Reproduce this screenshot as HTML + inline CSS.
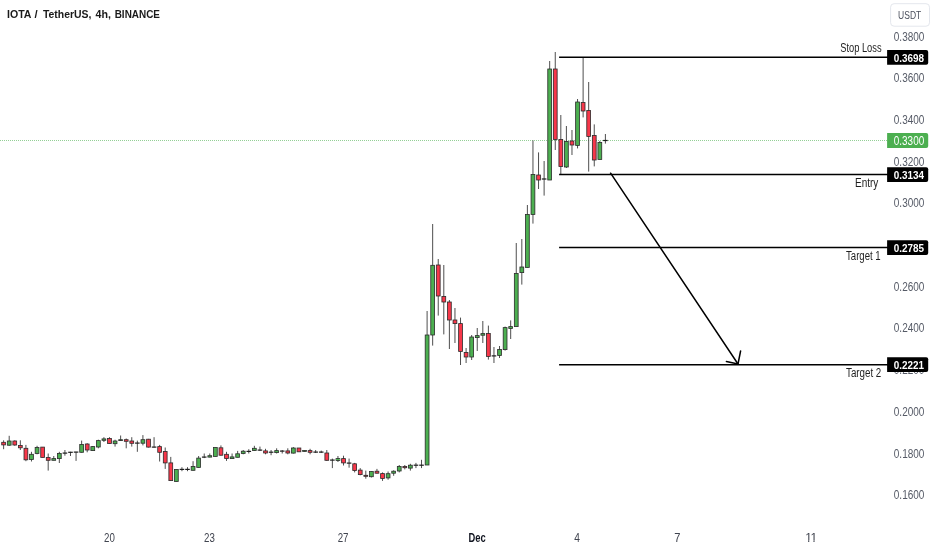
<!DOCTYPE html>
<html lang="en"><head><meta charset="utf-8"><title>IOTA / TetherUS, 4h, BINANCE</title>
<style>html,body{margin:0;padding:0;background:#fff;}body{width:932px;height:550px;overflow:hidden;}svg{display:block;}text{font-family:"Liberation Sans",sans-serif;}</style>
</head><body>
<svg width="932" height="550" viewBox="0 0 932 550">
<rect width="932" height="550" fill="#ffffff"/>
<line x1="0" y1="140.5" x2="887" y2="140.5" stroke="#4caf50" stroke-opacity="0.6" stroke-width="1" stroke-dasharray="1 1" shape-rendering="crispEdges"/>
<g>
<line x1="3.62" y1="440.3" x2="3.62" y2="449.2" stroke="#3a3a3a" stroke-width="0.9"/>
<rect x="1.72" y="442.3" width="3.8" height="2.6" fill="#f7374a" stroke="#2b2b2b" stroke-width="0.8"/>
<line x1="9.20" y1="435.8" x2="9.20" y2="445.8" stroke="#3a3a3a" stroke-width="0.9"/>
<rect x="7.30" y="441.0" width="3.8" height="4.2" fill="#4caf50" stroke="#2b2b2b" stroke-width="0.8"/>
<line x1="14.77" y1="440.3" x2="14.77" y2="445.8" stroke="#3a3a3a" stroke-width="0.9"/>
<rect x="12.87" y="441.0" width="3.8" height="4.0" fill="#f7374a" stroke="#2b2b2b" stroke-width="0.8"/>
<line x1="20.34" y1="440.3" x2="20.34" y2="450.0" stroke="#3a3a3a" stroke-width="0.9"/>
<rect x="18.44" y="445.4" width="3.8" height="2.4" fill="#f7374a" stroke="#2b2b2b" stroke-width="0.8"/>
<line x1="25.91" y1="444.9" x2="25.91" y2="461.2" stroke="#3a3a3a" stroke-width="0.9"/>
<rect x="24.01" y="448.3" width="3.8" height="11.5" fill="#f7374a" stroke="#2b2b2b" stroke-width="0.8"/>
<line x1="31.48" y1="451.8" x2="31.48" y2="461.5" stroke="#3a3a3a" stroke-width="0.9"/>
<rect x="29.58" y="454.3" width="3.8" height="5.2" fill="#4caf50" stroke="#2b2b2b" stroke-width="0.8"/>
<line x1="37.06" y1="445.8" x2="37.06" y2="454.3" stroke="#3a3a3a" stroke-width="0.9"/>
<rect x="35.16" y="447.5" width="3.8" height="6.0" fill="#4caf50" stroke="#2b2b2b" stroke-width="0.8"/>
<line x1="42.63" y1="447.1" x2="42.63" y2="457.4" stroke="#3a3a3a" stroke-width="0.9"/>
<rect x="40.73" y="447.1" width="3.8" height="10.3" fill="#f7374a" stroke="#2b2b2b" stroke-width="0.8"/>
<line x1="48.20" y1="453.5" x2="48.20" y2="470.6" stroke="#3a3a3a" stroke-width="0.9"/>
<rect x="46.30" y="457.4" width="3.8" height="2.9" fill="#f7374a" stroke="#2b2b2b" stroke-width="0.8"/>
<line x1="53.77" y1="456.0" x2="53.77" y2="460.3" stroke="#3a3a3a" stroke-width="0.9"/>
<rect x="51.87" y="458.6" width="3.8" height="1.7" fill="#4caf50" stroke="#2b2b2b" stroke-width="0.8"/>
<line x1="59.34" y1="451.8" x2="59.34" y2="463.0" stroke="#3a3a3a" stroke-width="0.9"/>
<rect x="57.44" y="453.5" width="3.8" height="5.1" fill="#4caf50" stroke="#2b2b2b" stroke-width="0.8"/>
<line x1="64.92" y1="450.0" x2="64.92" y2="455.7" stroke="#3a3a3a" stroke-width="0.9"/>
<line x1="62.62" y1="453.1" x2="67.22" y2="453.1" stroke="#1c1c1c" stroke-width="1.2"/>
<line x1="70.49" y1="451.8" x2="70.49" y2="456.0" stroke="#3a3a3a" stroke-width="0.9"/>
<line x1="68.19" y1="452.3" x2="72.79" y2="452.3" stroke="#1c1c1c" stroke-width="1.2"/>
<line x1="76.06" y1="451.8" x2="76.06" y2="460.9" stroke="#3a3a3a" stroke-width="0.9"/>
<line x1="73.76" y1="452.1" x2="78.36" y2="452.1" stroke="#1c1c1c" stroke-width="1.2"/>
<line x1="81.63" y1="440.6" x2="81.63" y2="452.6" stroke="#3a3a3a" stroke-width="0.9"/>
<rect x="79.73" y="444.4" width="3.8" height="7.9" fill="#4caf50" stroke="#2b2b2b" stroke-width="0.8"/>
<line x1="87.20" y1="443.2" x2="87.20" y2="452.3" stroke="#3a3a3a" stroke-width="0.9"/>
<rect x="85.30" y="444.0" width="3.8" height="6.0" fill="#f7374a" stroke="#2b2b2b" stroke-width="0.8"/>
<line x1="92.78" y1="446.0" x2="92.78" y2="451.0" stroke="#3a3a3a" stroke-width="0.9"/>
<rect x="90.88" y="446.6" width="3.8" height="4.0" fill="#4caf50" stroke="#2b2b2b" stroke-width="0.8"/>
<line x1="98.35" y1="439.7" x2="98.35" y2="448.3" stroke="#3a3a3a" stroke-width="0.9"/>
<rect x="96.45" y="440.6" width="3.8" height="6.4" fill="#4caf50" stroke="#2b2b2b" stroke-width="0.8"/>
<line x1="103.92" y1="437.2" x2="103.92" y2="442.0" stroke="#3a3a3a" stroke-width="0.9"/>
<rect x="102.02" y="438.9" width="3.8" height="1.4" fill="#4caf50" stroke="#2b2b2b" stroke-width="0.8"/>
<line x1="109.49" y1="437.2" x2="109.49" y2="443.7" stroke="#3a3a3a" stroke-width="0.9"/>
<rect x="107.59" y="438.5" width="3.8" height="5.0" fill="#f7374a" stroke="#2b2b2b" stroke-width="0.8"/>
<line x1="115.06" y1="439.7" x2="115.06" y2="446.6" stroke="#3a3a3a" stroke-width="0.9"/>
<rect x="113.16" y="441.0" width="3.8" height="2.7" fill="#4caf50" stroke="#2b2b2b" stroke-width="0.8"/>
<line x1="120.64" y1="435.5" x2="120.64" y2="441.0" stroke="#3a3a3a" stroke-width="0.9"/>
<rect x="118.74" y="439.7" width="3.8" height="0.9" fill="#4caf50" stroke="#2b2b2b" stroke-width="0.8"/>
<line x1="126.21" y1="438.5" x2="126.21" y2="448.3" stroke="#3a3a3a" stroke-width="0.9"/>
<rect x="124.31" y="439.7" width="3.8" height="1.6" fill="#f7374a" stroke="#2b2b2b" stroke-width="0.8"/>
<line x1="131.78" y1="437.2" x2="131.78" y2="446.6" stroke="#3a3a3a" stroke-width="0.9"/>
<rect x="129.88" y="441.0" width="3.8" height="2.3" fill="#f7374a" stroke="#2b2b2b" stroke-width="0.8"/>
<line x1="137.35" y1="440.6" x2="137.35" y2="451.8" stroke="#3a3a3a" stroke-width="0.9"/>
<line x1="135.05" y1="443.1" x2="139.65" y2="443.1" stroke="#1c1c1c" stroke-width="1.2"/>
<line x1="142.92" y1="435.1" x2="142.92" y2="445.4" stroke="#3a3a3a" stroke-width="0.9"/>
<rect x="141.02" y="439.7" width="3.8" height="3.5" fill="#4caf50" stroke="#2b2b2b" stroke-width="0.8"/>
<line x1="148.50" y1="438.9" x2="148.50" y2="447.5" stroke="#3a3a3a" stroke-width="0.9"/>
<rect x="146.60" y="439.2" width="3.8" height="7.9" fill="#f7374a" stroke="#2b2b2b" stroke-width="0.8"/>
<line x1="154.07" y1="437.2" x2="154.07" y2="447.5" stroke="#3a3a3a" stroke-width="0.9"/>
<line x1="151.77" y1="447.1" x2="156.37" y2="447.1" stroke="#1c1c1c" stroke-width="1.2"/>
<line x1="159.64" y1="444.9" x2="159.64" y2="461.5" stroke="#3a3a3a" stroke-width="0.9"/>
<rect x="157.74" y="446.6" width="3.8" height="5.7" fill="#f7374a" stroke="#2b2b2b" stroke-width="0.8"/>
<line x1="165.21" y1="447.5" x2="165.21" y2="468.9" stroke="#3a3a3a" stroke-width="0.9"/>
<rect x="163.31" y="451.4" width="3.8" height="11.5" fill="#f7374a" stroke="#2b2b2b" stroke-width="0.8"/>
<line x1="170.78" y1="456.9" x2="170.78" y2="480.9" stroke="#3a3a3a" stroke-width="0.9"/>
<rect x="168.88" y="462.9" width="3.8" height="17.7" fill="#f7374a" stroke="#2b2b2b" stroke-width="0.8"/>
<line x1="176.36" y1="469.4" x2="176.36" y2="481.5" stroke="#3a3a3a" stroke-width="0.9"/>
<rect x="174.46" y="469.4" width="3.8" height="12.1" fill="#4caf50" stroke="#2b2b2b" stroke-width="0.8"/>
<line x1="181.93" y1="467.2" x2="181.93" y2="471.2" stroke="#3a3a3a" stroke-width="0.9"/>
<line x1="179.63" y1="469.4" x2="184.23" y2="469.4" stroke="#1c1c1c" stroke-width="1.2"/>
<line x1="187.50" y1="467.2" x2="187.50" y2="471.2" stroke="#3a3a3a" stroke-width="0.9"/>
<line x1="185.20" y1="469.4" x2="189.80" y2="469.4" stroke="#1c1c1c" stroke-width="1.2"/>
<line x1="193.07" y1="461.2" x2="193.07" y2="470.6" stroke="#3a3a3a" stroke-width="0.9"/>
<rect x="191.17" y="466.4" width="3.8" height="3.9" fill="#4caf50" stroke="#2b2b2b" stroke-width="0.8"/>
<line x1="198.64" y1="456.0" x2="198.64" y2="467.7" stroke="#3a3a3a" stroke-width="0.9"/>
<rect x="196.74" y="458.1" width="3.8" height="9.3" fill="#4caf50" stroke="#2b2b2b" stroke-width="0.8"/>
<line x1="204.22" y1="453.5" x2="204.22" y2="458.1" stroke="#3a3a3a" stroke-width="0.9"/>
<line x1="201.92" y1="457.1" x2="206.52" y2="457.1" stroke="#1c1c1c" stroke-width="1.2"/>
<line x1="209.79" y1="453.5" x2="209.79" y2="457.4" stroke="#3a3a3a" stroke-width="0.9"/>
<rect x="207.89" y="455.7" width="3.8" height="1.4" fill="#4caf50" stroke="#2b2b2b" stroke-width="0.8"/>
<line x1="215.36" y1="447.5" x2="215.36" y2="456.4" stroke="#3a3a3a" stroke-width="0.9"/>
<rect x="213.46" y="447.5" width="3.8" height="8.9" fill="#4caf50" stroke="#2b2b2b" stroke-width="0.8"/>
<line x1="220.93" y1="445.4" x2="220.93" y2="455.7" stroke="#3a3a3a" stroke-width="0.9"/>
<rect x="219.03" y="447.8" width="3.8" height="7.4" fill="#f7374a" stroke="#2b2b2b" stroke-width="0.8"/>
<line x1="226.50" y1="451.8" x2="226.50" y2="460.9" stroke="#3a3a3a" stroke-width="0.9"/>
<rect x="224.60" y="454.3" width="3.8" height="4.3" fill="#f7374a" stroke="#2b2b2b" stroke-width="0.8"/>
<line x1="232.08" y1="453.5" x2="232.08" y2="458.6" stroke="#3a3a3a" stroke-width="0.9"/>
<rect x="230.18" y="456.9" width="3.8" height="1.7" fill="#4caf50" stroke="#2b2b2b" stroke-width="0.8"/>
<line x1="237.65" y1="450.9" x2="237.65" y2="457.4" stroke="#3a3a3a" stroke-width="0.9"/>
<rect x="235.75" y="453.8" width="3.8" height="3.5" fill="#4caf50" stroke="#2b2b2b" stroke-width="0.8"/>
<line x1="243.22" y1="450.0" x2="243.22" y2="454.3" stroke="#3a3a3a" stroke-width="0.9"/>
<rect x="241.32" y="451.2" width="3.8" height="2.3" fill="#4caf50" stroke="#2b2b2b" stroke-width="0.8"/>
<line x1="248.79" y1="449.2" x2="248.79" y2="453.5" stroke="#3a3a3a" stroke-width="0.9"/>
<line x1="246.49" y1="451.4" x2="251.09" y2="451.4" stroke="#1c1c1c" stroke-width="1.2"/>
<line x1="254.36" y1="445.8" x2="254.36" y2="450.9" stroke="#3a3a3a" stroke-width="0.9"/>
<rect x="252.46" y="448.3" width="3.8" height="2.3" fill="#4caf50" stroke="#2b2b2b" stroke-width="0.8"/>
<line x1="259.94" y1="446.6" x2="259.94" y2="450.9" stroke="#3a3a3a" stroke-width="0.9"/>
<line x1="257.64" y1="450.1" x2="262.24" y2="450.1" stroke="#1c1c1c" stroke-width="1.2"/>
<line x1="265.51" y1="448.8" x2="265.51" y2="454.3" stroke="#3a3a3a" stroke-width="0.9"/>
<rect x="263.61" y="450.9" width="3.8" height="2.1" fill="#f7374a" stroke="#2b2b2b" stroke-width="0.8"/>
<line x1="271.08" y1="450.0" x2="271.08" y2="455.2" stroke="#3a3a3a" stroke-width="0.9"/>
<line x1="268.78" y1="452.2" x2="273.38" y2="452.2" stroke="#1c1c1c" stroke-width="1.2"/>
<line x1="276.65" y1="448.3" x2="276.65" y2="453.5" stroke="#3a3a3a" stroke-width="0.9"/>
<rect x="274.75" y="450.6" width="3.8" height="2.0" fill="#4caf50" stroke="#2b2b2b" stroke-width="0.8"/>
<line x1="282.22" y1="450.0" x2="282.22" y2="453.5" stroke="#3a3a3a" stroke-width="0.9"/>
<line x1="279.92" y1="451.1" x2="284.52" y2="451.1" stroke="#1c1c1c" stroke-width="1.2"/>
<line x1="287.80" y1="448.3" x2="287.80" y2="454.3" stroke="#3a3a3a" stroke-width="0.9"/>
<rect x="285.90" y="450.9" width="3.8" height="2.1" fill="#f7374a" stroke="#2b2b2b" stroke-width="0.8"/>
<line x1="293.37" y1="447.1" x2="293.37" y2="453.5" stroke="#3a3a3a" stroke-width="0.9"/>
<rect x="291.47" y="448.0" width="3.8" height="5.1" fill="#4caf50" stroke="#2b2b2b" stroke-width="0.8"/>
<line x1="298.94" y1="448.0" x2="298.94" y2="451.8" stroke="#3a3a3a" stroke-width="0.9"/>
<rect x="297.04" y="448.0" width="3.8" height="3.8" fill="#f7374a" stroke="#2b2b2b" stroke-width="0.8"/>
<line x1="304.51" y1="450.4" x2="304.51" y2="451.4" stroke="#3a3a3a" stroke-width="0.9"/>
<rect x="302.61" y="450.4" width="3.8" height="1.0" fill="#4caf50" stroke="#2b2b2b" stroke-width="0.8"/>
<line x1="310.08" y1="448.8" x2="310.08" y2="454.3" stroke="#3a3a3a" stroke-width="0.9"/>
<rect x="308.18" y="450.6" width="3.8" height="1.7" fill="#f7374a" stroke="#2b2b2b" stroke-width="0.8"/>
<line x1="315.66" y1="450.0" x2="315.66" y2="453.0" stroke="#3a3a3a" stroke-width="0.9"/>
<line x1="313.36" y1="452.1" x2="317.96" y2="452.1" stroke="#1c1c1c" stroke-width="1.2"/>
<line x1="321.23" y1="450.6" x2="321.23" y2="453.0" stroke="#3a3a3a" stroke-width="0.9"/>
<line x1="318.93" y1="452.1" x2="323.53" y2="452.1" stroke="#1c1c1c" stroke-width="1.2"/>
<line x1="326.80" y1="450.0" x2="326.80" y2="460.9" stroke="#3a3a3a" stroke-width="0.9"/>
<rect x="324.90" y="453.0" width="3.8" height="7.3" fill="#f7374a" stroke="#2b2b2b" stroke-width="0.8"/>
<line x1="332.37" y1="458.6" x2="332.37" y2="468.1" stroke="#3a3a3a" stroke-width="0.9"/>
<line x1="330.07" y1="460.1" x2="334.67" y2="460.1" stroke="#1c1c1c" stroke-width="1.2"/>
<line x1="337.94" y1="456.0" x2="337.94" y2="462.0" stroke="#3a3a3a" stroke-width="0.9"/>
<rect x="336.04" y="458.6" width="3.8" height="1.9" fill="#4caf50" stroke="#2b2b2b" stroke-width="0.8"/>
<line x1="343.52" y1="455.7" x2="343.52" y2="465.5" stroke="#3a3a3a" stroke-width="0.9"/>
<rect x="341.62" y="458.6" width="3.8" height="4.3" fill="#f7374a" stroke="#2b2b2b" stroke-width="0.8"/>
<line x1="349.09" y1="458.6" x2="349.09" y2="467.7" stroke="#3a3a3a" stroke-width="0.9"/>
<line x1="346.79" y1="463.1" x2="351.39" y2="463.1" stroke="#1c1c1c" stroke-width="1.2"/>
<line x1="354.66" y1="462.9" x2="354.66" y2="472.4" stroke="#3a3a3a" stroke-width="0.9"/>
<rect x="352.76" y="463.8" width="3.8" height="6.8" fill="#f7374a" stroke="#2b2b2b" stroke-width="0.8"/>
<line x1="360.23" y1="468.1" x2="360.23" y2="475.3" stroke="#3a3a3a" stroke-width="0.9"/>
<rect x="358.33" y="470.1" width="3.8" height="4.5" fill="#f7374a" stroke="#2b2b2b" stroke-width="0.8"/>
<line x1="365.80" y1="470.6" x2="365.80" y2="478.7" stroke="#3a3a3a" stroke-width="0.9"/>
<rect x="363.90" y="475.3" width="3.8" height="1.0" fill="#f7374a" stroke="#2b2b2b" stroke-width="0.8"/>
<line x1="371.38" y1="471.2" x2="371.38" y2="477.5" stroke="#3a3a3a" stroke-width="0.9"/>
<rect x="369.48" y="471.5" width="3.8" height="5.2" fill="#4caf50" stroke="#2b2b2b" stroke-width="0.8"/>
<line x1="376.95" y1="468.9" x2="376.95" y2="473.6" stroke="#3a3a3a" stroke-width="0.9"/>
<rect x="375.05" y="471.2" width="3.8" height="2.0" fill="#f7374a" stroke="#2b2b2b" stroke-width="0.8"/>
<line x1="382.52" y1="472.4" x2="382.52" y2="480.9" stroke="#3a3a3a" stroke-width="0.9"/>
<rect x="380.62" y="473.6" width="3.8" height="4.8" fill="#f7374a" stroke="#2b2b2b" stroke-width="0.8"/>
<line x1="388.09" y1="471.5" x2="388.09" y2="479.7" stroke="#3a3a3a" stroke-width="0.9"/>
<rect x="386.19" y="473.7" width="3.8" height="4.2" fill="#4caf50" stroke="#2b2b2b" stroke-width="0.8"/>
<line x1="393.66" y1="470.3" x2="393.66" y2="475.8" stroke="#3a3a3a" stroke-width="0.9"/>
<rect x="391.76" y="471.2" width="3.8" height="2.0" fill="#4caf50" stroke="#2b2b2b" stroke-width="0.8"/>
<line x1="399.24" y1="465.0" x2="399.24" y2="472.4" stroke="#3a3a3a" stroke-width="0.9"/>
<rect x="397.34" y="466.4" width="3.8" height="4.6" fill="#4caf50" stroke="#2b2b2b" stroke-width="0.8"/>
<line x1="404.81" y1="465.0" x2="404.81" y2="469.4" stroke="#3a3a3a" stroke-width="0.9"/>
<rect x="402.91" y="466.4" width="3.8" height="1.3" fill="#f7374a" stroke="#2b2b2b" stroke-width="0.8"/>
<line x1="410.38" y1="463.8" x2="410.38" y2="470.6" stroke="#3a3a3a" stroke-width="0.9"/>
<rect x="408.48" y="465.2" width="3.8" height="2.9" fill="#4caf50" stroke="#2b2b2b" stroke-width="0.8"/>
<line x1="415.95" y1="462.9" x2="415.95" y2="468.1" stroke="#3a3a3a" stroke-width="0.9"/>
<line x1="413.65" y1="465.2" x2="418.25" y2="465.2" stroke="#1c1c1c" stroke-width="1.2"/>
<line x1="421.52" y1="459.8" x2="421.52" y2="468.1" stroke="#3a3a3a" stroke-width="0.9"/>
<line x1="419.22" y1="465.2" x2="423.82" y2="465.2" stroke="#1c1c1c" stroke-width="1.2"/>
<line x1="427.10" y1="311.0" x2="427.10" y2="465.0" stroke="#3a3a3a" stroke-width="0.9"/>
<rect x="425.20" y="335.0" width="3.8" height="130.0" fill="#4caf50" stroke="#2b2b2b" stroke-width="0.8"/>
<line x1="432.67" y1="224.0" x2="432.67" y2="345.6" stroke="#3a3a3a" stroke-width="0.9"/>
<rect x="430.77" y="265.3" width="3.8" height="69.7" fill="#4caf50" stroke="#2b2b2b" stroke-width="0.8"/>
<line x1="438.24" y1="259.0" x2="438.24" y2="315.6" stroke="#3a3a3a" stroke-width="0.9"/>
<rect x="436.34" y="265.0" width="3.8" height="31.0" fill="#f7374a" stroke="#2b2b2b" stroke-width="0.8"/>
<line x1="443.81" y1="265.0" x2="443.81" y2="334.4" stroke="#3a3a3a" stroke-width="0.9"/>
<rect x="441.91" y="296.4" width="3.8" height="5.6" fill="#f7374a" stroke="#2b2b2b" stroke-width="0.8"/>
<line x1="449.38" y1="300.0" x2="449.38" y2="349.0" stroke="#3a3a3a" stroke-width="0.9"/>
<rect x="447.48" y="302.0" width="3.8" height="18.0" fill="#f7374a" stroke="#2b2b2b" stroke-width="0.8"/>
<line x1="454.96" y1="308.0" x2="454.96" y2="343.0" stroke="#3a3a3a" stroke-width="0.9"/>
<rect x="453.06" y="320.0" width="3.8" height="3.6" fill="#f7374a" stroke="#2b2b2b" stroke-width="0.8"/>
<line x1="460.53" y1="317.6" x2="460.53" y2="365.0" stroke="#3a3a3a" stroke-width="0.9"/>
<rect x="458.63" y="323.6" width="3.8" height="27.8" fill="#f7374a" stroke="#2b2b2b" stroke-width="0.8"/>
<line x1="466.10" y1="348.0" x2="466.10" y2="363.0" stroke="#3a3a3a" stroke-width="0.9"/>
<rect x="464.20" y="352.4" width="3.8" height="4.6" fill="#f7374a" stroke="#2b2b2b" stroke-width="0.8"/>
<line x1="471.67" y1="335.0" x2="471.67" y2="360.0" stroke="#3a3a3a" stroke-width="0.9"/>
<rect x="469.77" y="337.0" width="3.8" height="20.0" fill="#4caf50" stroke="#2b2b2b" stroke-width="0.8"/>
<line x1="477.24" y1="328.0" x2="477.24" y2="351.0" stroke="#3a3a3a" stroke-width="0.9"/>
<rect x="475.34" y="335.6" width="3.8" height="2.0" fill="#4caf50" stroke="#2b2b2b" stroke-width="0.8"/>
<line x1="482.82" y1="321.0" x2="482.82" y2="343.0" stroke="#3a3a3a" stroke-width="0.9"/>
<rect x="480.92" y="333.6" width="3.8" height="1.6" fill="#4caf50" stroke="#2b2b2b" stroke-width="0.8"/>
<line x1="488.39" y1="325.6" x2="488.39" y2="359.6" stroke="#3a3a3a" stroke-width="0.9"/>
<rect x="486.49" y="333.4" width="3.8" height="23.0" fill="#f7374a" stroke="#2b2b2b" stroke-width="0.8"/>
<line x1="493.96" y1="347.0" x2="493.96" y2="363.0" stroke="#3a3a3a" stroke-width="0.9"/>
<line x1="491.66" y1="355.9" x2="496.26" y2="355.9" stroke="#1c1c1c" stroke-width="1.2"/>
<line x1="499.53" y1="346.0" x2="499.53" y2="358.0" stroke="#3a3a3a" stroke-width="0.9"/>
<rect x="497.63" y="349.4" width="3.8" height="6.0" fill="#4caf50" stroke="#2b2b2b" stroke-width="0.8"/>
<line x1="505.10" y1="326.6" x2="505.10" y2="350.6" stroke="#3a3a3a" stroke-width="0.9"/>
<rect x="503.20" y="327.6" width="3.8" height="22.0" fill="#4caf50" stroke="#2b2b2b" stroke-width="0.8"/>
<line x1="510.68" y1="320.4" x2="510.68" y2="339.0" stroke="#3a3a3a" stroke-width="0.9"/>
<rect x="508.78" y="326.6" width="3.8" height="1.8" fill="#4caf50" stroke="#2b2b2b" stroke-width="0.8"/>
<line x1="516.25" y1="243.0" x2="516.25" y2="326.6" stroke="#3a3a3a" stroke-width="0.9"/>
<rect x="514.35" y="273.4" width="3.8" height="53.2" fill="#4caf50" stroke="#2b2b2b" stroke-width="0.8"/>
<line x1="521.82" y1="239.0" x2="521.82" y2="284.6" stroke="#3a3a3a" stroke-width="0.9"/>
<rect x="519.92" y="267.0" width="3.8" height="5.6" fill="#4caf50" stroke="#2b2b2b" stroke-width="0.8"/>
<line x1="527.39" y1="205.0" x2="527.39" y2="267.4" stroke="#3a3a3a" stroke-width="0.9"/>
<rect x="525.49" y="214.4" width="3.8" height="53.0" fill="#4caf50" stroke="#2b2b2b" stroke-width="0.8"/>
<line x1="532.96" y1="140.4" x2="532.96" y2="223.6" stroke="#3a3a3a" stroke-width="0.9"/>
<rect x="531.06" y="174.4" width="3.8" height="40.0" fill="#4caf50" stroke="#2b2b2b" stroke-width="0.8"/>
<line x1="538.54" y1="152.4" x2="538.54" y2="189.0" stroke="#3a3a3a" stroke-width="0.9"/>
<rect x="536.64" y="175.0" width="3.8" height="5.0" fill="#f7374a" stroke="#2b2b2b" stroke-width="0.8"/>
<line x1="544.11" y1="161.0" x2="544.11" y2="195.6" stroke="#3a3a3a" stroke-width="0.9"/>
<line x1="541.81" y1="179.0" x2="546.41" y2="179.0" stroke="#1c1c1c" stroke-width="1.2"/>
<line x1="549.68" y1="61.0" x2="549.68" y2="180.0" stroke="#3a3a3a" stroke-width="0.9"/>
<rect x="547.78" y="69.0" width="3.8" height="111.0" fill="#4caf50" stroke="#2b2b2b" stroke-width="0.8"/>
<line x1="555.25" y1="52.0" x2="555.25" y2="150.0" stroke="#3a3a3a" stroke-width="0.9"/>
<rect x="553.35" y="69.0" width="3.8" height="70.4" fill="#f7374a" stroke="#2b2b2b" stroke-width="0.8"/>
<line x1="560.82" y1="115.0" x2="560.82" y2="174.0" stroke="#3a3a3a" stroke-width="0.9"/>
<rect x="558.92" y="139.4" width="3.8" height="27.2" fill="#f7374a" stroke="#2b2b2b" stroke-width="0.8"/>
<line x1="566.40" y1="126.0" x2="566.40" y2="168.0" stroke="#3a3a3a" stroke-width="0.9"/>
<rect x="564.50" y="141.4" width="3.8" height="25.6" fill="#4caf50" stroke="#2b2b2b" stroke-width="0.8"/>
<line x1="571.97" y1="130.0" x2="571.97" y2="155.0" stroke="#3a3a3a" stroke-width="0.9"/>
<rect x="570.07" y="141.0" width="3.8" height="4.0" fill="#f7374a" stroke="#2b2b2b" stroke-width="0.8"/>
<line x1="577.54" y1="99.0" x2="577.54" y2="148.4" stroke="#3a3a3a" stroke-width="0.9"/>
<rect x="575.64" y="102.0" width="3.8" height="43.4" fill="#4caf50" stroke="#2b2b2b" stroke-width="0.8"/>
<line x1="583.11" y1="57.4" x2="583.11" y2="117.4" stroke="#3a3a3a" stroke-width="0.9"/>
<rect x="581.21" y="102.4" width="3.8" height="8.6" fill="#f7374a" stroke="#2b2b2b" stroke-width="0.8"/>
<line x1="588.68" y1="82.0" x2="588.68" y2="171.6" stroke="#3a3a3a" stroke-width="0.9"/>
<rect x="586.78" y="110.4" width="3.8" height="26.0" fill="#f7374a" stroke="#2b2b2b" stroke-width="0.8"/>
<line x1="594.26" y1="124.4" x2="594.26" y2="166.4" stroke="#3a3a3a" stroke-width="0.9"/>
<rect x="592.36" y="135.4" width="3.8" height="24.6" fill="#f7374a" stroke="#2b2b2b" stroke-width="0.8"/>
<line x1="599.83" y1="141.0" x2="599.83" y2="159.4" stroke="#3a3a3a" stroke-width="0.9"/>
<rect x="597.93" y="142.4" width="3.8" height="17.0" fill="#4caf50" stroke="#2b2b2b" stroke-width="0.8"/>
<line x1="605.40" y1="134.0" x2="605.40" y2="143.6" stroke="#3a3a3a" stroke-width="0.9"/>
<line x1="603.10" y1="140.5" x2="607.70" y2="140.5" stroke="#1c1c1c" stroke-width="1.2"/>
</g>
<line x1="559.1" y1="57.3" x2="888" y2="57.3" stroke="#000" stroke-width="1.55"/>
<line x1="559.1" y1="174.5" x2="888" y2="174.5" stroke="#000" stroke-width="1.55"/>
<line x1="559.1" y1="247.5" x2="888" y2="247.5" stroke="#000" stroke-width="1.55"/>
<line x1="559.1" y1="364.75" x2="888" y2="364.75" stroke="#000" stroke-width="1.55"/>
<g stroke="#000" stroke-width="1.5" fill="none" stroke-linecap="round" stroke-linejoin="round">
<line x1="610.6" y1="173.2" x2="738" y2="364"/>
<polyline points="740.6,351 738,364 726.4,361.6"/>
</g>
<text x="893.8" y="40.5" font-size="12" fill="#555a66" textLength="30.6" lengthAdjust="spacingAndGlyphs">0.3800</text>
<text x="893.8" y="82.2" font-size="12" fill="#555a66" textLength="30.6" lengthAdjust="spacingAndGlyphs">0.3600</text>
<text x="893.8" y="123.9" font-size="12" fill="#555a66" textLength="30.6" lengthAdjust="spacingAndGlyphs">0.3400</text>
<text x="893.8" y="165.6" font-size="12" fill="#555a66" textLength="30.6" lengthAdjust="spacingAndGlyphs">0.3200</text>
<text x="893.8" y="207.3" font-size="12" fill="#555a66" textLength="30.6" lengthAdjust="spacingAndGlyphs">0.3000</text>
<text x="893.8" y="290.7" font-size="12" fill="#555a66" textLength="30.6" lengthAdjust="spacingAndGlyphs">0.2600</text>
<text x="893.8" y="332.4" font-size="12" fill="#555a66" textLength="30.6" lengthAdjust="spacingAndGlyphs">0.2400</text>
<text x="893.8" y="373.6" font-size="12" fill="#555a66" textLength="30.6" lengthAdjust="spacingAndGlyphs">0.2200</text>
<text x="893.8" y="415.8" font-size="12" fill="#555a66" textLength="30.6" lengthAdjust="spacingAndGlyphs">0.2000</text>
<text x="893.8" y="457.5" font-size="12" fill="#555a66" textLength="30.6" lengthAdjust="spacingAndGlyphs">0.1800</text>
<text x="893.8" y="499.2" font-size="12" fill="#555a66" textLength="30.6" lengthAdjust="spacingAndGlyphs">0.1600</text>
<path d="M887.1 50.0H926.2Q928.2 50.0 928.2 52.0V62.8Q928.2 64.8 926.2 64.8H887.1Z" fill="#000"/>
<text x="893.8" y="61.6" font-size="11.6" font-weight="bold" fill="#fff" textLength="30.3" lengthAdjust="spacingAndGlyphs">0.3698</text>
<path d="M887.1 133.1H926.2Q928.2 133.1 928.2 135.1V145.9Q928.2 147.9 926.2 147.9H887.1Z" fill="#4caf50"/>
<text x="893.8" y="144.8" font-size="12" fill="#fff" textLength="30.4" lengthAdjust="spacingAndGlyphs">0.3300</text>
<path d="M887.1 167.2H926.2Q928.2 167.2 928.2 169.2V180.0Q928.2 182.0 926.2 182.0H887.1Z" fill="#000"/>
<text x="893.8" y="178.8" font-size="11.6" font-weight="bold" fill="#fff" textLength="30.3" lengthAdjust="spacingAndGlyphs">0.3134</text>
<path d="M887.1 240.3H926.2Q928.2 240.3 928.2 242.3V253.1Q928.2 255.1 926.2 255.1H887.1Z" fill="#000"/>
<text x="893.8" y="251.9" font-size="11.6" font-weight="bold" fill="#fff" textLength="30.3" lengthAdjust="spacingAndGlyphs">0.2785</text>
<path d="M887.1 357.3H926.2Q928.2 357.3 928.2 359.3V370.1Q928.2 372.1 926.2 372.1H887.1Z" fill="#000"/>
<text x="893.8" y="368.9" font-size="11.6" font-weight="bold" fill="#fff" textLength="30.3" lengthAdjust="spacingAndGlyphs">0.2221</text>
<text x="840.2" y="51.7" font-size="12" fill="#1e1e1e" textLength="41.4" lengthAdjust="spacingAndGlyphs">Stop Loss</text>
<text x="855" y="186.8" font-size="12" fill="#1e1e1e" textLength="23.3" lengthAdjust="spacingAndGlyphs">Entry</text>
<text x="846" y="259.5" font-size="12" fill="#1e1e1e" textLength="34.7" lengthAdjust="spacingAndGlyphs">Target 1</text>
<text x="846" y="377" font-size="12" fill="#1e1e1e" textLength="35.3" lengthAdjust="spacingAndGlyphs">Target 2</text>
<rect x="890.6" y="3.7" width="38.9" height="22.5" rx="3.5" fill="#fff" stroke="#e4e7ed" stroke-width="1"/>
<text x="898.1" y="18.8" font-size="11.7" fill="#4a4f5c" textLength="23.2" lengthAdjust="spacingAndGlyphs">USDT</text>
<text y="18.3" font-size="11.3" font-weight="bold" fill="#1a1a1a"><tspan x="7" textLength="24.1" lengthAdjust="spacingAndGlyphs">IOTA</tspan> <tspan x="34.6">/</tspan> <tspan x="42.9" textLength="48.6" lengthAdjust="spacingAndGlyphs">TetherUS,</tspan> <tspan x="95.5" textLength="15.4" lengthAdjust="spacingAndGlyphs">4h,</tspan> <tspan x="114.7" textLength="45.3" lengthAdjust="spacingAndGlyphs">BINANCE</tspan></text>
<text x="104.1" y="541.8" font-size="12" fill="#40444f" textLength="10.8" lengthAdjust="spacingAndGlyphs">20</text>
<text x="204" y="541.8" font-size="12" fill="#40444f" textLength="10.8" lengthAdjust="spacingAndGlyphs">23</text>
<text x="337.7" y="541.8" font-size="12" fill="#40444f" textLength="10.8" lengthAdjust="spacingAndGlyphs">27</text>
<text x="468.5" y="541.8" font-size="12" font-weight="bold" fill="#131722" textLength="17.2" lengthAdjust="spacingAndGlyphs">Dec</text>
<text x="574.3" y="541.8" font-size="12" fill="#40444f" textLength="5.7" lengthAdjust="spacingAndGlyphs">4</text>
<text x="674.3" y="541.8" font-size="12" fill="#40444f" textLength="6.2" lengthAdjust="spacingAndGlyphs">7</text>
<text x="805.2 810.5" y="541.7" font-size="12" fill="#40444f">11</text>
<g fill="#fff"><rect x="805.4" y="540.5" width="2.75" height="1.6"/><rect x="809.25" y="540.5" width="4.2" height="1.6"/><rect x="814.55" y="540.5" width="2.6" height="1.6"/></g>
</svg></body></html>
